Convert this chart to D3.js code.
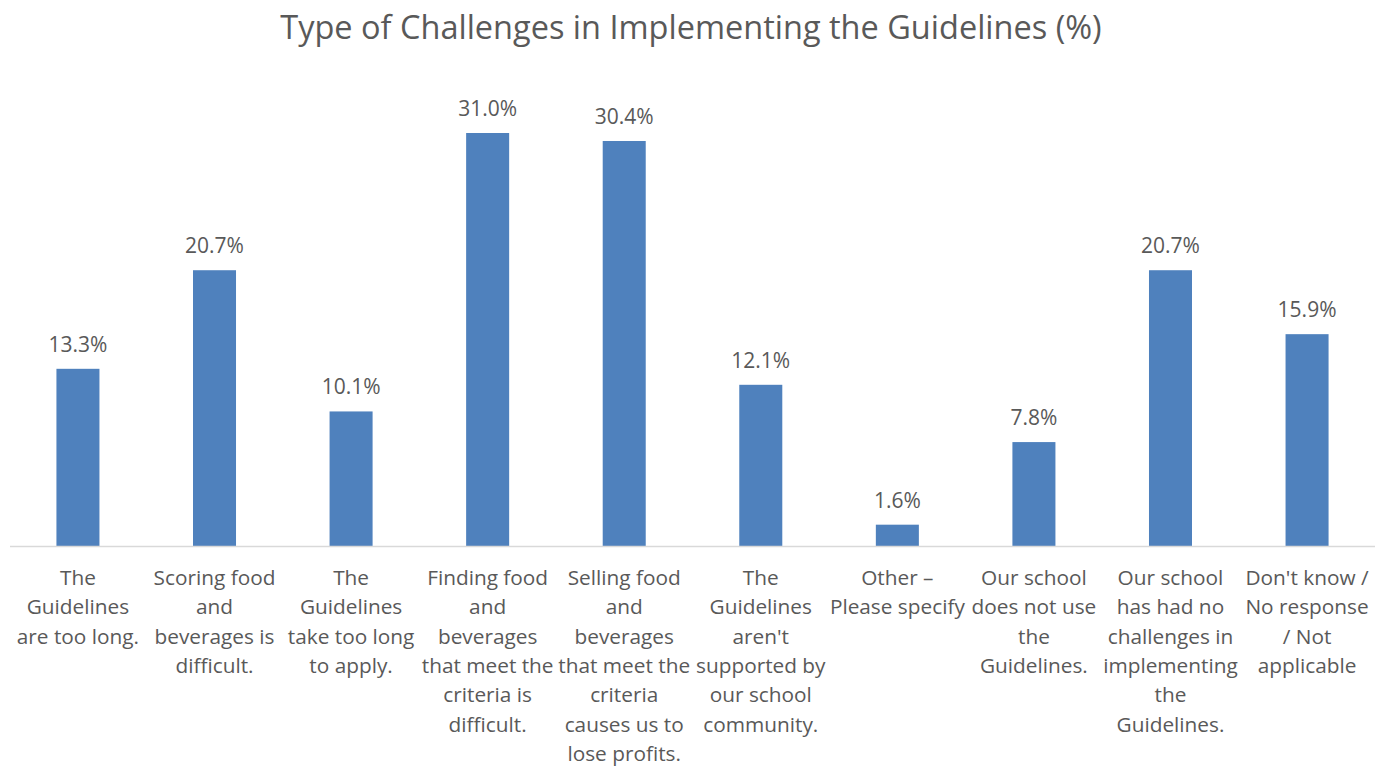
<!DOCTYPE html>
<meta charset="utf-8">
<style>
body { margin: 0; background: #fff; }
text { font-family: 'Open Sans', sans-serif; fill: #595959; }
.title { font-size: 32.5px; }
.val { font-size: 21px; }
.cat { font-size: 20.8px; }
.bar { fill: #4f81bd; }
</style>
<body>
<script src="https://d3js.org/d3.v7.min.js"></script>
<script>

// chart data
var categories = [
  ["The", "Guidelines", "are too long."],
  ["Scoring food", "and", "beverages is", "difficult."],
  ["The", "Guidelines", "take too long", "to apply."],
  ["Finding food", "and", "beverages", "that meet the", "criteria is", "difficult."],
  ["Selling food", "and", "beverages", "that meet the", "criteria", "causes us to", "lose profits."],
  ["The", "Guidelines", "aren't", "supported by", "our school", "community."],
  ["Other \u2013", "Please specify"],
  ["Our school", "does not use", "the", "Guidelines."],
  ["Our school", "has had no", "challenges in", "implementing", "the", "Guidelines."],
  ["Don't know /", "No response", "/ Not", "applicable"]
];
var values = [13.3, 20.7, 10.1, 31.0, 30.4, 12.1, 1.6, 7.8, 20.7, 15.9];

var W = 1388, H = 766;
var left = 10, right = 1375, base = 546;

var svg = d3.select("body").append("svg")
    .attr("width", W)
    .attr("height", H);

svg.append("text")
    .attr("class", "title")
    .attr("x", 691)
    .attr("y", 39)
    .attr("text-anchor", "middle")
    .text("Type of Challenges in Implementing the Guidelines (%)");

var idx = d3.range(values.length);
var x = d3.scaleBand()
    .domain(idx)
    .range([left, right])
    .paddingInner(0.685)
    .paddingOuter(0.34);

var y = d3.scaleLinear()
    .domain([0, 31])
    .range([base, 133]);

svg.selectAll(".bar")
    .data(idx)
  .enter().append("rect")
    .attr("class", "bar")
    .attr("x", function(i) { return x(i); })
    .attr("width", x.bandwidth())
    .attr("y", function(i) { return y(values[i]); })
    .attr("height", function(i) { return base - y(values[i]); });

svg.selectAll(".val")
    .data(idx)
  .enter().append("text")
    .attr("class", "val")
    .attr("x", function(i) { return x(i) + x.bandwidth() / 2; })
    .attr("y", function(i) { return y(values[i]) - 17; })
    .attr("text-anchor", "middle")
    .text(function(i) { return values[i].toFixed(1) + "%"; });

// axis line
svg.append("line")
    .attr("x1", left).attr("x2", right)
    .attr("y1", base + 0.5).attr("y2", base + 0.5)
    .attr("stroke", "#d9d9d9")
    .attr("stroke-width", 1.5);

var cat = svg.selectAll(".cat")
    .data(idx)
  .enter().append("text")
    .attr("class", "cat")
    .attr("text-anchor", "middle");

cat.selectAll("tspan")
    .data(function(i) {
      return categories[i].map(function(s) { return {i: i, s: s}; });
    })
  .enter().append("tspan")
    .attr("x", function(d) { return x(d.i) + x.bandwidth() / 2; })
    .attr("y", function(d, k) { return 585 + k * 29.3; })
    .text(function(d) { return d.s; });

</script>
</body>
